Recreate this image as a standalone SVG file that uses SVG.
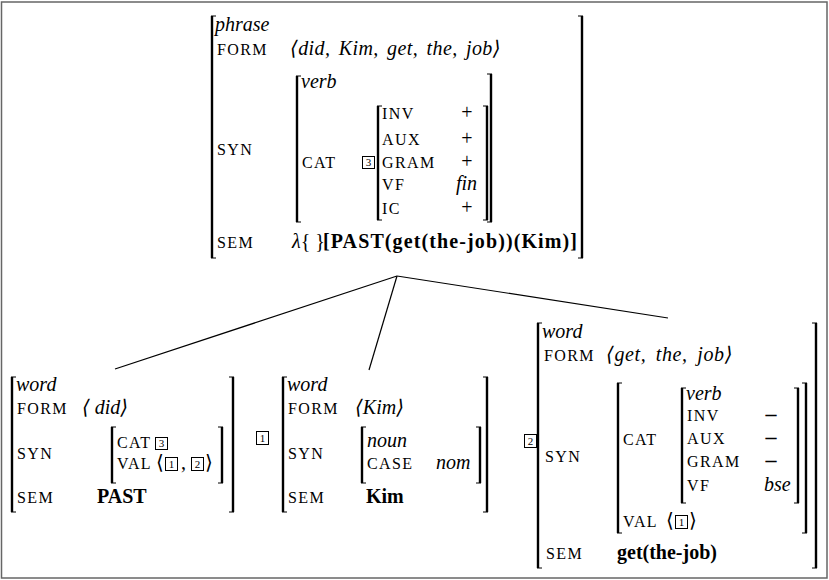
<svg xmlns="http://www.w3.org/2000/svg" width="829" height="580" viewBox="0 0 829 580">
<style>
text{font-family:"Liberation Serif","DejaVu Serif",serif;fill:#000}
.f{font-size:16px;letter-spacing:1.4px}
.i{font-size:20px;font-style:italic}
.r{font-size:20px}
.b{font-size:20px;font-weight:bold}
.d{font-size:22px;font-weight:bold;text-anchor:middle}
.n{font-size:11px;text-anchor:middle}
.m{text-anchor:middle}
.bv{stroke:#000;stroke-width:2.4;fill:none}
.bs{stroke:#000;stroke-width:1;fill:none}
.tag{stroke:#000;stroke-width:1;fill:none}
.ln{stroke:#000;stroke-width:1.2;fill:none}
</style>
<rect x="1.5" y="2" width="825.5" height="576" fill="#fff" stroke="#666" stroke-width="1.5"/>
<g id="connectors">
<path class="ln" d="M397 276 L115 369"/>
<path class="ln" d="M397 276 L369 370"/>
<path class="ln" d="M397 276 L668 318"/>
</g>
<g id="root">
<path class="bv" d="M212 16V258M582 16V258"/>
<path class="bs" d="M211 16h5M211 258h5M583 16h-5M583 258h-5"/>
<text class="i" x="215" y="31">phrase</text>
<text class="f" x="217" y="55">FORM</text>
<text class="i" x="290" y="55" letter-spacing="0.4" word-spacing="3">⟨did, Kim, get, the, job⟩</text>
<text class="f" x="217" y="155">SYN</text>
<path class="bv" d="M297 76V222M491 74V222"/>
<path class="bs" d="M296 76h5M296 222h5M492 74h-5M492 222h-5"/>
<text class="i" x="301" y="88">verb</text>
<text class="f" x="302" y="168">CAT</text>
<rect class="tag" x="362.5" y="156.5" width="12" height="12"/>
<text class="n" x="368.5" y="166">3</text>
<path class="bv" d="M378 106V220M487 106V220"/>
<path class="bs" d="M377 106h5M377 220h5M488 106h-5M488 220h-5"/>
<text class="f" x="382" y="119">INV</text>
<text class="r m" x="467" y="119">+</text>
<text class="f" x="382" y="145">AUX</text>
<text class="r m" x="467" y="145">+</text>
<text class="f" x="382" y="168">GRAM</text>
<text class="r m" x="467" y="168">+</text>
<text class="f" x="382" y="190">VF</text>
<text class="i" x="456" y="190">fin</text>
<text class="f" x="382" y="214">IC</text>
<text class="r m" x="467" y="214">+</text>
<text class="f" x="217" y="248">SEM</text>
<text class="r" x="292" y="248"><tspan font-style="italic">λ</tspan>{ }</text>
<text class="b" x="323" y="248" textLength="254" lengthAdjust="spacing">[PAST(get(the-job))(Kim)]</text>
</g>
<g id="did">
<path class="bv" d="M12 377V512M233 377V512"/>
<path class="bs" d="M11 377h5M11 512h5M234 377h-5M234 512h-5"/>
<text class="i" x="16" y="391">word</text>
<text class="f" x="17" y="414">FORM</text>
<text class="i" x="82" y="414">⟨ did⟩</text>
<text class="f" x="17" y="459">SYN</text>
<path class="bv" d="M112 427V483M222 427V483"/>
<path class="bs" d="M111 427h5M111 483h5M223 427h-5M223 483h-5"/>
<text class="f" x="117" y="448">CAT</text>
<rect class="tag" x="155.5" y="437.5" width="12" height="12"/>
<text class="n" x="161.5" y="447">3</text>
<text class="f" x="117" y="469">VAL</text>
<text class="r" x="156" y="469">⟨</text>
<rect class="tag" x="165.5" y="457.5" width="12" height="13"/>
<text class="n" x="171.5" y="468">1</text>
<text class="r" x="181" y="469">,</text>
<rect class="tag" x="191.5" y="457.5" width="12" height="13"/>
<text class="n" x="197.5" y="468">2</text>
<text class="r" x="205" y="469">⟩</text>
<text class="f" x="17" y="503">SEM</text>
<text class="b" x="97" y="503">PAST</text>
</g>
<g id="kim">
<rect class="tag" x="256.5" y="431.5" width="12" height="13"/>
<text class="n" x="262.5" y="442">1</text>
<path class="bv" d="M283 377V512M487 377V512"/>
<path class="bs" d="M282 377h5M282 512h5M488 377h-5M488 512h-5"/>
<text class="i" x="287" y="391">word</text>
<text class="f" x="288" y="414">FORM</text>
<text class="i" x="355" y="414">⟨Kim⟩</text>
<text class="f" x="288" y="459">SYN</text>
<path class="bv" d="M362 427V483M480 427V483"/>
<path class="bs" d="M361 427h5M361 483h5M481 427h-5M481 483h-5"/>
<text class="i" x="367" y="447">noun</text>
<text class="f" x="367" y="469">CASE</text>
<text class="i" x="436" y="469">nom</text>
<text class="f" x="288" y="503">SEM</text>
<text class="b" x="366" y="503">Kim</text>
</g>
<g id="get">
<rect class="tag" x="524.5" y="434.5" width="12" height="13"/>
<text class="n" x="530.5" y="445">2</text>
<path class="bv" d="M538 323V568M816 323V568"/>
<path class="bs" d="M537 323h5M537 568h5M817 323h-5M817 568h-5"/>
<text class="i" x="542" y="338">word</text>
<text class="f" x="544" y="361">FORM</text>
<text class="i" x="606" y="361" letter-spacing="0.6" word-spacing="4">⟨get, the, job⟩</text>
<text class="f" x="545" y="462">SYN</text>
<path class="bv" d="M618 383V533M806 383V533"/>
<path class="bs" d="M617 383h5M617 533h5M807 383h-5M807 533h-5"/>
<text class="f" x="623" y="445">CAT</text>
<path class="bv" d="M682 388V503M798 388V503"/>
<path class="bs" d="M681 388h5M681 503h5M799 388h-5M799 503h-5"/>
<text class="i" x="686" y="400">verb</text>
<text class="f" x="687" y="421">INV</text>
<text class="d" x="771" y="421">–</text>
<text class="f" x="687" y="444">AUX</text>
<text class="d" x="771" y="444">–</text>
<text class="f" x="687" y="467">GRAM</text>
<text class="d" x="771" y="467">–</text>
<text class="f" x="687" y="491">VF</text>
<text class="i" x="764" y="491">bse</text>
<text class="f" x="623" y="527">VAL</text>
<text class="r" x="666" y="527">⟨</text>
<rect class="tag" x="675.5" y="515.5" width="12" height="13"/>
<text class="n" x="681.5" y="526">1</text>
<text class="r" x="689" y="527">⟩</text>
<text class="f" x="546" y="559">SEM</text>
<text class="b" x="617" y="559">get(the-job)</text>
</g>
</svg>
